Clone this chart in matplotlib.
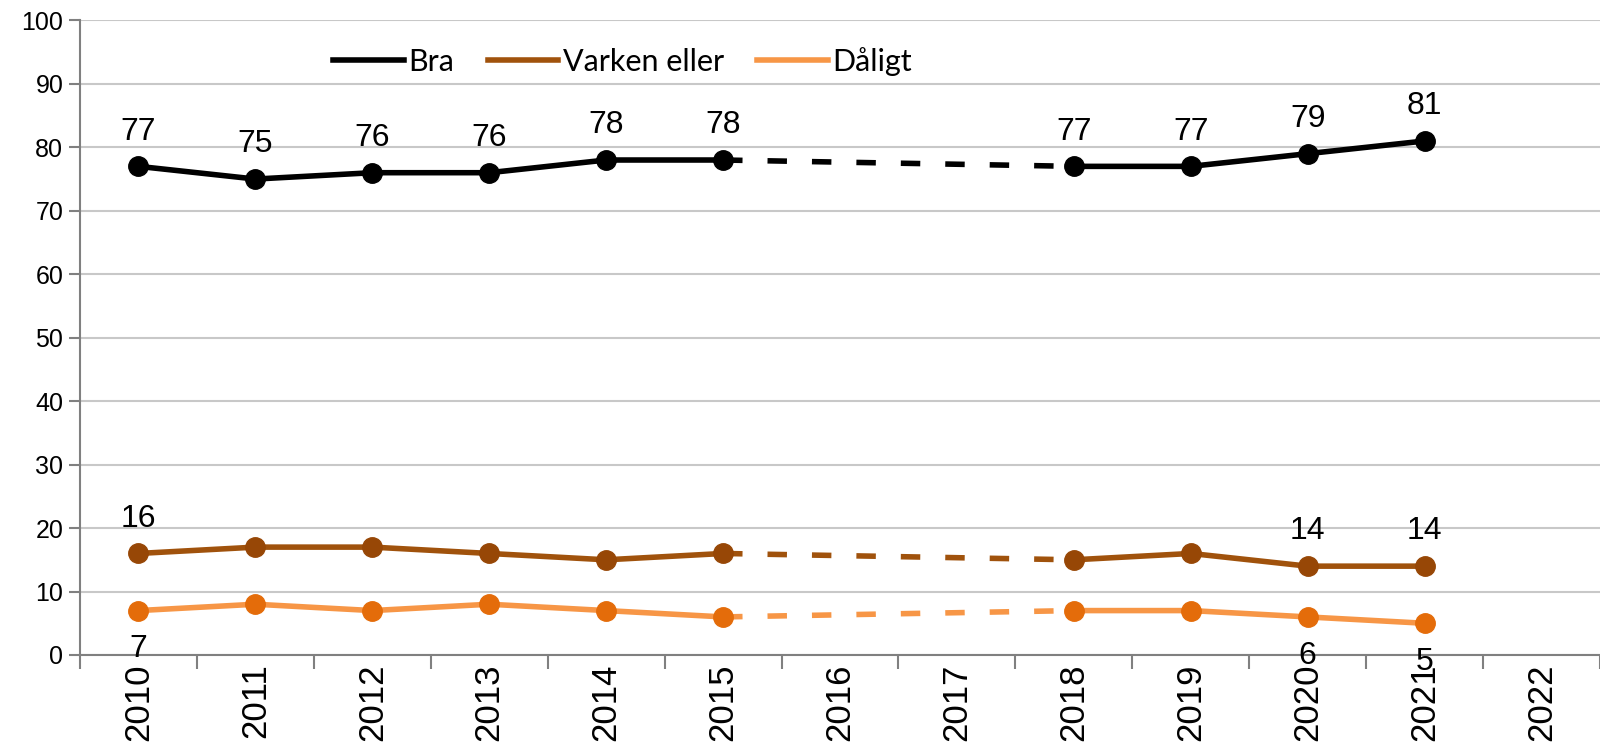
import matplotlib.pyplot as plt
import numpy as np

years = ['2010', '2011', '2012', '2013', '2014', '2015', '2016', '2017',
         '2018', '2019', '2020', '2021', '2022']
bra = [77, 75, 76, 76, 78, 78, None, None, 77, 77, 79, 81, None]
varken = [16, 17, 17, 16, 15, 16, None, None, 15, 16, 14, 14, None]
daligt = [7, 8, 7, 8, 7, 6, None, None, 7, 7, 6, 5, None]

# which points get a data label
bra_lab = [0, 1, 2, 3, 4, 5, 8, 9, 10, 11]
varken_lab = [0, 10, 11]
daligt_lab = [0, 10, 11]

plt.rcParams['font.family'] = ['Liberation Sans', 'DejaVu Sans']

fig = plt.figure(figsize=(16, 7.48), dpi=100)
ax = fig.add_axes([80/1600, 1-655/748, 1-80/1600, (655-20.4)/748])

x = np.arange(len(years))


def arr(v):
    return np.array([np.nan if a is None else a for a in v], dtype=float)


series = [
    ('Bra', arr(bra), '#000000', '#000000', bra_lab, 'above'),
    ('Varken eller', arr(varken), '#A0520C', '#974706', varken_lab, 'above'),
    ('Dåligt', arr(daligt), '#F79646', '#E46C0A', daligt_lab, 'below'),
]

handles = []
for name, y, lc, mc, labs, pos in series:
    # dashed link across the missing years
    ax.plot([x[5], x[8]], [y[5], y[8]], color=lc, lw=4, ls=(0, (3.5, 4.5)),
            zorder=2)
    h, = ax.plot(x, y, color=lc, lw=4, marker='o', markersize=14,
                 markerfacecolor=mc, markeredgecolor=mc, zorder=3)
    handles.append(plt.Line2D([], [], color=lc, lw=4))
    for i in labs:
        off = 25 if pos == 'above' else -28
        ax.annotate(str(int(y[i])), (x[i], y[i]), xytext=(0, off),
                    textcoords='offset points', ha='center', va='center',
                    fontsize=23)

ax.set_ylim(0, 100)
ax.set_yticks(range(0, 101, 10))
ax.set_xlim(-0.5, 12.42)
ax.set_xticks(x)
ax.set_xticklabels(years, rotation=90, fontsize=25)
ax.set_xticks(np.arange(-0.5, 13, 1), minor=True)
ax.tick_params(axis='x', which='major', length=0, pad=6)
ax.tick_params(axis='x', which='minor', length=10, color='#808080', width=1.5)
ax.tick_params(axis='y', length=8, color='#808080', width=1.5, labelsize=18,
               pad=4)
ax.yaxis.grid(True, color='#C8C8C8', lw=1.5)
ax.set_axisbelow(True)
for s in ['top', 'right']:
    ax.spines[s].set_visible(False)
for s in ['left', 'bottom']:
    ax.spines[s].set_color('#808080')
    ax.spines[s].set_linewidth(1.5)

leg = ax.legend(handles, ['Bra', 'Varken eller', 'Dåligt'], ncol=3,
                loc='center', bbox_to_anchor=(0.357, 0.935), frameon=True,
                facecolor='white', edgecolor='none', framealpha=1,
                handlelength=2.3, handletextpad=0.15, columnspacing=1.1,
                prop={'family': 'Lato', 'size': 22}, borderpad=0.2)

fig.savefig('out.png', dpi=100)
